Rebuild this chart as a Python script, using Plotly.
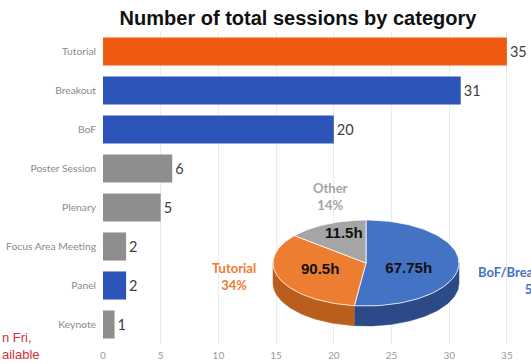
import math
import plotly.graph_objects as go

# ---------------- data ----------------
categories = ["Tutorial", "Breakout", "BoF", "Poster Session", "Plenary",
              "Focus Area Meeting", "Panel", "Keynote"]
sessions = [35, 31, 20, 6, 5, 2, 2, 1]
bar_groups = ["tutorial", "bof", "bof", "other", "other", "other", "bof", "other"]

pie_labels = ["BoF/Breakout/Panel", "Tutorial", "Other"]
pie_pct = [52, 34, 14]
pie_hours = ["67.75h", "90.5h", "11.5h"]

x_ticks = [0, 5, 10, 15, 20, 25, 30, 35]

# ---------------- styles ----------------
bar_colors = {"tutorial": "#EF5B12", "bof": "#2D55B9", "other": "#8E8E8E"}
pie_top = ["#4472C4", "#ED7D31", "#A5A5A5"]
pie_side = ["#2C4A88", "#BA5E1E", "#7A7A7A"]
pie_lbl_col = ["#4472C4", "#ED7D31", "#A5A5A5"]

W, H = 531, 364
ML, MR, MT, MB = 103, 0, 32, 20
PW, PH = W - ML - MR, H - MT - MB


def px2paper(x, y):
    return (x - ML) / PW, (H - MB - y) / PH


fig = go.Figure()

fig.add_trace(go.Bar(
    y=categories, x=sessions, orientation="h",
    marker=dict(color=[bar_colors[g] for g in bar_groups], line=dict(width=0)),
    text=[str(v) for v in sessions], textposition="outside",
    textfont=dict(size=14.5, color="#404040", family="Lato"),
    cliponaxis=False, hoverinfo="skip", showlegend=False,
))

# ------------- 3D-looking pie on pixel overlay axes -------------
cx, cy, rx, ry, depth = 366, 263, 93, 43, 20


def pt(theta_deg, dy=0.0, f=1.0):
    t = math.radians(theta_deg)
    return cx + f * rx * math.sin(t), cy - f * ry * math.cos(t) + dy


total = sum(pie_pct)
bounds = []
acc = 0.0
for p in pie_pct:
    a0 = acc / total * 360
    acc += p
    a1 = acc / total * 360
    bounds.append((a0, a1))

# side walls (front half: 90..270 deg clockwise from top)
for i, (a0, a1) in enumerate(bounds):
    s0, s1 = max(a0, 90), min(a1, 270)
    if s1 <= s0:
        continue
    n = 60
    angs = [s0 + (s1 - s0) * k / n for k in range(n + 1)]
    top = [pt(a) for a in angs]
    bot = [pt(a, depth) for a in reversed(angs)]
    poly = top + bot + [top[0]]
    fig.add_trace(go.Scatter(
        x=[p[0] for p in poly], y=[p[1] for p in poly],
        xaxis="x2", yaxis="y2", mode="lines", fill="toself",
        fillcolor=pie_side[i], line=dict(width=0.5, color=pie_side[i]),
        hoverinfo="skip", showlegend=False))

# top faces
for i, (a0, a1) in enumerate(bounds):
    n = 80
    angs = [a0 + (a1 - a0) * k / n for k in range(n + 1)]
    arc = [pt(a) for a in angs]
    poly = [(cx, cy)] + arc + [(cx, cy)]
    fig.add_trace(go.Scatter(
        x=[p[0] for p in poly], y=[p[1] for p in poly],
        xaxis="x2", yaxis="y2", mode="lines", fill="toself",
        fillcolor=pie_top[i], line=dict(width=0.8, color="white"),
        hoverinfo="skip", showlegend=False))

# hour labels inside slices
lbl_f = [0.46, 0.53, 0.56]
lbl_dy = [5, -1, -7]
lx, ly = [], []
for i, (a0, a1) in enumerate(bounds):
    x, y = pt((a0 + a1) / 2, lbl_dy[i], lbl_f[i])
    lx.append(x)
    ly.append(y)
fig.add_trace(go.Scatter(
    x=lx, y=ly, xaxis="x2", yaxis="y2", mode="text",
    text=[f"<b>{h}</b>" for h in pie_hours],
    textfont=dict(size=15, color="#111111", family="Liberation Sans"),
    textposition="middle center", hoverinfo="skip", showlegend=False))

# outer category/percent labels
outer_pos = [(537, 280), (234, 276), (330, 196)]
for i, lab in enumerate(pie_labels):
    ax, ay = px2paper(*outer_pos[i])
    fig.add_annotation(
        x=ax, y=ay, xref="paper", yref="paper",
        text=f"<b>{lab}<br>{pie_pct[i]}%</b>", showarrow=False,
        font=dict(size=13, color=pie_lbl_col[i], family="Lato"),
        align="center", xanchor="center", yanchor="middle")

# cut-off red note at left
nx, ny = px2paper(0, 346)
fig.add_annotation(
    x=nx, y=ny, xref="paper", yref="paper", text="n Fri,<br>ailable",
    showarrow=False, xanchor="left", yanchor="middle", align="left",
    font=dict(size=13, color="#D2323A", family="Liberation Sans"))

fig.update_layout(
    width=W, height=H,
    margin=dict(l=ML, r=MR, t=MT, b=MB, pad=0, autoexpand=False),
    paper_bgcolor="white", plot_bgcolor="rgba(0,0,0,0)",
    bargap=0.28,
    title=dict(text="<b>Number of total sessions by category</b>",
               x=298 / W, xref="container", xanchor="center",
               y=1 - 18 / H, yanchor="middle",
               font=dict(size=20, color="#111111", family="Liberation Sans")),
    xaxis=dict(range=[0, PW / 11.54], tickvals=x_ticks,
               showgrid=True, gridcolor="#EBEBEB", gridwidth=1,
               zeroline=False, showline=False, ticks="", automargin=False,
               ticklabelstandoff=4,
               tickfont=dict(size=10, color="#9A9A9A", family="Lato")),
    yaxis=dict(autorange="reversed", showgrid=False, ticks="", automargin=False,
               tickfont=dict(size=10.3, color="#8A8A8A", family="Lato"),
               ticklabelstandoff=6),
    xaxis2=dict(domain=[0, 1], range=[ML, W - MR], visible=False,
                anchor="y2", fixedrange=True),
    yaxis2=dict(domain=[0, 1], range=[H - MB, MT], visible=False,
                anchor="x2", fixedrange=True),
)

fig.write_html("out.html", config={"displayModeBar": False},
               post_script="document.body.style.margin='0';")
